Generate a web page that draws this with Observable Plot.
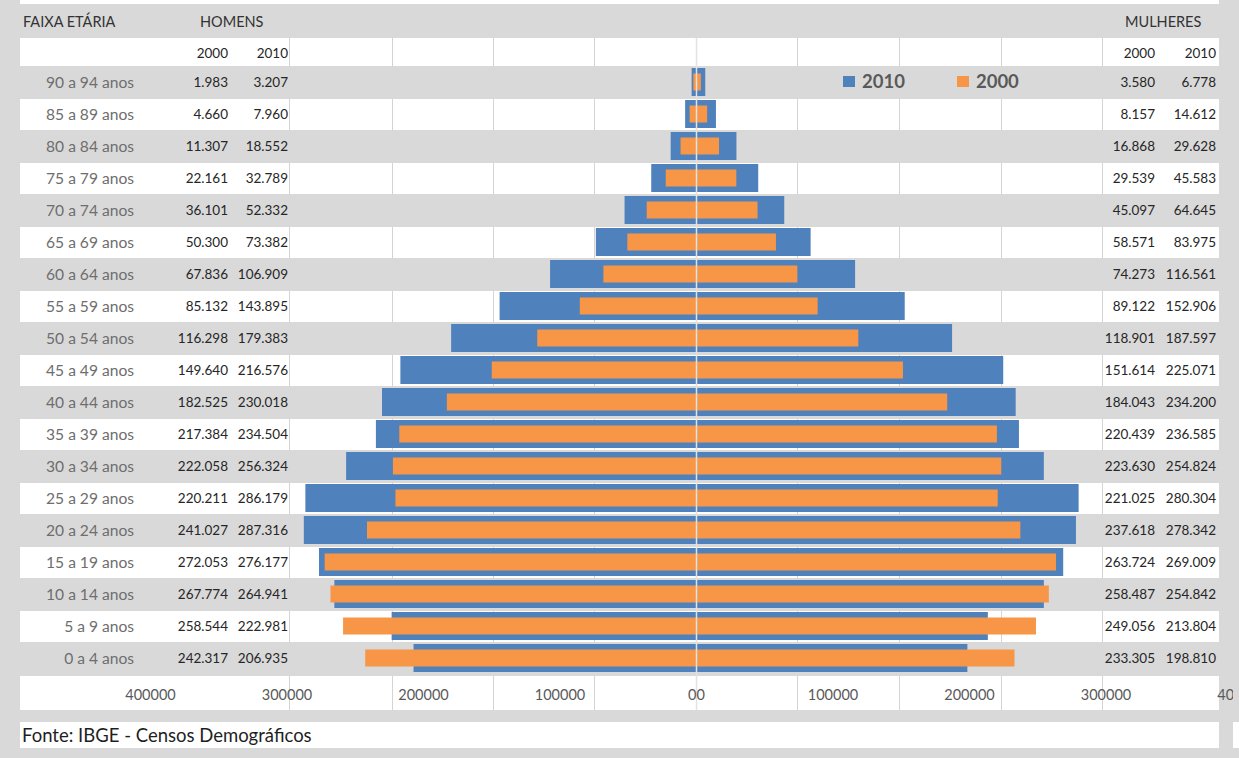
<!DOCTYPE html>
<html>
<head>
<meta charset="utf-8">
<script src="https://cdn.jsdelivr.net/npm/d3@7"></script>
<script src="https://cdn.jsdelivr.net/npm/@observablehq/plot@0.6"></script>
<style>
  html, body { margin: 0; padding: 0; background: #d9d9d9; }
  #sheet { position: relative; width: 1239px; height: 758px; background: #d9d9d9; overflow: hidden; font-family: Lato, "Open Sans", sans-serif; }
  .band { position: absolute; background: #ffffff; }
  .grid { position: absolute; width: 1px; background: #d4d4d4; }
  .cell { position: absolute; white-space: nowrap; }
  #chart { position: absolute; left: 0; top: 0; width: 1233px; height: 710px; overflow: hidden; }
  #legend { position: absolute; left: 843px; top: 70px; display: flex; align-items: center; font-weight: 700; font-size: 18.5px; color: #595959; }
  #legend .sw { display: inline-block; width: 12px; height: 11px; margin-right: 7px; }
  #legend .item { display: flex; align-items: center; margin-right: 52px; }
</style>
</head>
<body>
<div id="sheet"></div>
<script>
// Faixas etárias, de cima para baixo
const ages = ["90 a 94 anos", "85 a 89 anos", "80 a 84 anos", "75 a 79 anos", "70 a 74 anos",
  "65 a 69 anos", "60 a 64 anos", "55 a 59 anos", "50 a 54 anos", "45 a 49 anos", "40 a 44 anos",
  "35 a 39 anos", "30 a 34 anos", "25 a 29 anos", "20 a 24 anos", "15 a 19 anos", "10 a 14 anos",
  "5 a 9 anos", "0 a 4 anos"];

// População residente por sexo (Censos 2000 e 2010)
const homens2000 = [1983, 4660, 11307, 22161, 36101, 50300, 67836, 85132, 116298, 149640, 182525,
  217384, 222058, 220211, 241027, 272053, 267774, 258544, 242317];
const homens2010 = [3207, 7960, 18552, 32789, 52332, 73382, 106909, 143895, 179383, 216576, 230018,
  234504, 256324, 286179, 287316, 276177, 264941, 222981, 206935];
const mulheres2000 = [3580, 8157, 16868, 29539, 45097, 58571, 74273, 89122, 118901, 151614, 184043,
  220439, 223630, 221025, 237618, 263724, 258487, 249056, 233305];
const mulheres2010 = [6778, 14612, 29628, 45583, 64645, 83975, 116561, 152906, 187597, 225071, 234200,
  236585, 254824, 280304, 278342, 269009, 254842, 213804, 198810];

// Eixo horizontal
const tickValues = [-400000, -300000, -200000, -100000, 0, 100000, 200000, 300000, 400000];
const tickLabels = ["400000", "300000", "200000", "100000", "00", "100000", "200000", "300000", "400000"];

const years = ["2000", "2010"];
const seriesNames = ["2010", "2000"];
const seriesColors = ["#4f81bd", "#f79646"];
const fonte = "Fonte: IBGE - Censos Demográficos";

// Layout da planilha
const rowTop = 66, rowH = 32;
const sheetLeft = 20, sheetRight = 1219;
const gridCols = [289, 392, 493, 594, 696, 797, 899, 1001, 1102];

const fmt = v => d3.format(",")(v).replace(/,/g, ".");
const sheet = d3.select("#sheet");

function band(top, height, left = sheetLeft, right = sheetRight, grid = true) {
  sheet.append("div").attr("class", "band")
    .style("left", left + "px").style("top", top + "px")
    .style("width", (right - left) + "px").style("height", height + "px");
  if (grid) for (const gx of gridCols) {
    sheet.append("div").attr("class", "grid")
      .style("left", gx + "px").style("top", top + "px").style("height", height + "px");
  }
}
function cell(text, opts) {
  const d = sheet.append("div").attr("class", "cell").text(text)
    .style("top", opts.top + "px").style("height", opts.h + "px").style("line-height", opts.h + "px")
    .style("font-size", (opts.size || 13.5) + "px").style("color", opts.color || "#262626");
  if (opts.right != null) d.style("right", (1239 - opts.right) + "px").style("text-align", "right");
  else d.style("left", opts.left + "px");
  if (opts.weight) d.style("font-weight", opts.weight);
}

// faixas brancas da planilha
band(0, 4, sheetLeft, sheetRight, false);
band(38, 28);
ages.forEach((a, i) => { if (i % 2 === 1) band(rowTop + i * rowH + 1, rowH - 1); });
band(676, 34);
band(722, 26, sheetLeft, sheetRight, false);
band(722, 26, 1233, 1239, false);

// cabeçalhos
cell("FAIXA ETÁRIA", {left: 23, top: 9, h: 26, size: 14.5, color: "#333333"});
cell("HOMENS", {left: 200, top: 9, h: 26, size: 14.5, color: "#333333"});
cell("MULHERES", {left: 1125, top: 9, h: 26, size: 14.5, color: "#333333"});
cell(years[0], {right: 228, top: 38, h: 30});
cell(years[1], {right: 288, top: 38, h: 30});
cell(years[0], {right: 1155, top: 38, h: 30});
cell(years[1], {right: 1216, top: 38, h: 30});

// tabela de valores
ages.forEach((a, i) => {
  const top = rowTop + i * rowH;
  cell(a, {right: 134, top, h: rowH, size: 15.6, color: "#6e6e6e"});
  cell(fmt(homens2000[i]), {right: 228, top, h: rowH});
  cell(fmt(homens2010[i]), {right: 288, top, h: rowH});
  cell(fmt(mulheres2000[i]), {right: 1155, top, h: rowH});
  cell(fmt(mulheres2010[i]), {right: 1216, top, h: rowH});
});

cell(fonte, {left: 22, top: 722, h: 26, size: 18.5, color: "#1f1f1f"});

// dados das barras: homens à esquerda (negativos), mulheres à direita
const bars2010 = ages.flatMap((age, i) => [
  {age, v: -homens2010[i]}, {age, v: mulheres2010[i]}
]);
const bars2000 = ages.flatMap((age, i) => [
  {age, v: -homens2000[i]}, {age, v: mulheres2000[i]}
]);
const labelOf = new Map(tickValues.map((t, i) => [t, tickLabels[i]]));

const chart = Plot.plot({
  width: 1233,
  height: 710,
  marginLeft: 0,
  marginRight: 0,
  marginTop: 38,
  marginBottom: 36,
  style: {background: "transparent", fontFamily: "Lato, 'Open Sans', sans-serif"},
  x: {domain: [-400000, 400000], range: [150, 1242]},
  y: {domain: ages, range: [rowTop, rowTop + ages.length * rowH], paddingInner: 0.12, paddingOuter: 0.06, axis: null},
  marks: [
    Plot.barX(bars2010, {y: "age", x1: 0, x2: "v", fill: seriesColors[0]}),
    Plot.barX(bars2000, {y: "age", x1: 0, x2: "v", fill: seriesColors[1], insetTop: 5.5, insetBottom: 5.5}),
    Plot.ruleX([0], {stroke: "#e2e2e2", strokeWidth: 1.5, insetBottom: -36}),
    Plot.axisX({
      anchor: "bottom",
      ticks: tickValues,
      tickFormat: d => labelOf.get(d),
      tickSize: 0,
      tickPadding: 15,
      fontSize: 14.5,
      fill: "#595959",
      label: null
    })
  ]
});

const wrap = sheet.append("div").attr("id", "chart");
wrap.node().appendChild(chart);

// legenda
const legend = sheet.append("div").attr("id", "legend");
seriesNames.forEach((name, i) => {
  const it = legend.append("div").attr("class", "item");
  it.append("span").attr("class", "sw").style("background", seriesColors[i]);
  it.append("span").text(name);
});
</script>
</body>
</html>
